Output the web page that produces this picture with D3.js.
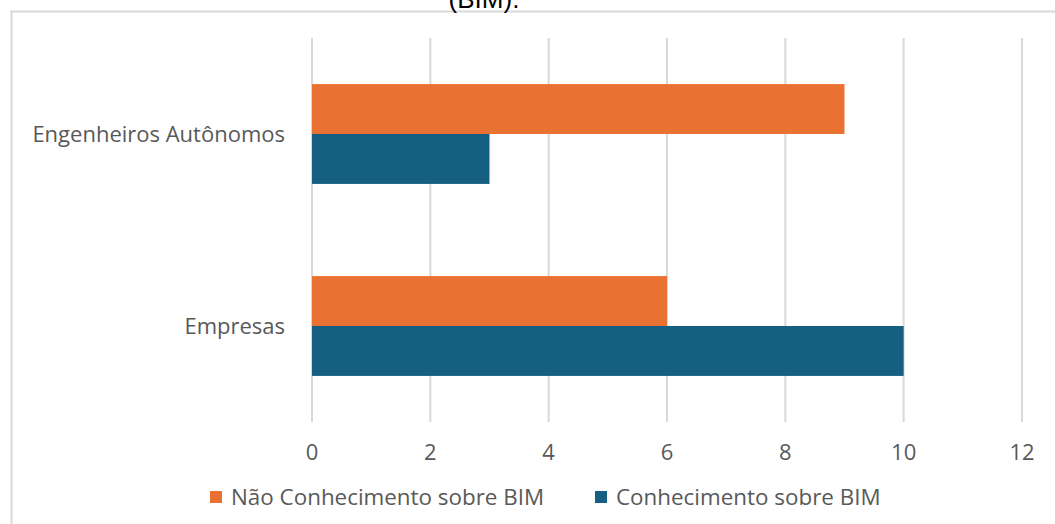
<!DOCTYPE html>
<html>
<head>
<meta charset="utf-8">
<script src="https://cdn.jsdelivr.net/npm/d3@7"></script>
<style>
  body { margin: 0; background: #fff; }
  text { font-family: "Open Sans", sans-serif; fill: #595959; }
</style>
</head>
<body>
<svg id="chart" width="1055" height="524"></svg>
<script>
const categories = ['Engenheiros Autônomos', 'Empresas']
const seriesNames = ['Não Conhecimento sobre BIM', 'Conhecimento sobre BIM']
const naoConhecimento = [9, 6]
const conhecimento = [3, 10]
const xTicks = [0, 2, 4, 6, 8, 10, 12]
const colors = ['#e97132', '#156082']

const svg = d3.select('#chart')

// chart frame, cut off at right and bottom like the source image
svg.append('rect')
    .attr('x', 11.5).attr('y', 11.5)
    .attr('width', 1100).attr('height', 600)
    .attr('fill', 'none')
    .attr('stroke', '#d9d9d9')
    .attr('stroke-width', 2)

// tail of the title, cropped at the top edge in the source
svg.append('text')
    .attr('x', 484).attr('y', 8)
    .attr('text-anchor', 'middle')
    .style('font-family', '"Liberation Sans", Arial, sans-serif')
    .style('font-size', '26px')
    .style('fill', '#000')
    .text('(BIM).')

const x = d3.scaleLinear().domain([0, 12]).range([312, 1022])
const y = d3.scaleBand().domain(categories).range([38, 422]).paddingInner(0.48).paddingOuter(0.24)
const sub = d3.scaleBand().domain(seriesNames).range([0, y.bandwidth()])

svg.append('g').selectAll('line')
    .data(xTicks)
    .join('line')
    .attr('x1', d => x(d)).attr('x2', d => x(d))
    .attr('y1', 38).attr('y2', 422)
    .attr('stroke', '#d9d9d9')
    .attr('stroke-width', 2)

const rows = categories.map((c, i) => ({ cat: c, values: [naoConhecimento[i], conhecimento[i]] }))

const groups = svg.append('g').selectAll('g')
    .data(rows)
    .join('g')
    .attr('transform', d => `translate(0, ${y(d.cat)})`)

groups.selectAll('rect')
    .data(d => d.values.map((v, j) => ({ name: seriesNames[j], value: v, j })))
    .join('rect')
    .attr('x', x(0))
    .attr('y', d => sub(d.name))
    .attr('width', d => x(d.value) - x(0))
    .attr('height', sub.bandwidth())
    .attr('fill', d => colors[d.j])

// x axis labels
svg.append('g').selectAll('text')
    .data(xTicks)
    .join('text')
    .attr('x', d => x(d))
    .attr('y', 452)
    .attr('dy', '0.35em')
    .attr('text-anchor', 'middle')
    .style('font-size', '22px')
    .text(d => d)

// category labels
svg.append('g').selectAll('text')
    .data(categories)
    .join('text')
    .attr('x', 285)
    .attr('y', d => y(d) + y.bandwidth() / 2)
    .attr('dy', '0.35em')
    .attr('text-anchor', 'end')
    .style('font-size', '22px')
    .text(d => d)

// legend
const legendX = [210, 595]
const legend = svg.append('g').selectAll('g')
    .data(seriesNames)
    .join('g')
    .attr('transform', (d, i) => `translate(${legendX[i]}, 497)`)

legend.append('rect')
    .attr('x', 0).attr('y', -6)
    .attr('width', 12).attr('height', 12)
    .attr('fill', (d, i) => colors[i])

legend.append('text')
    .attr('x', 21)
    .attr('dy', '0.35em')
    .style('font-size', '22.4px')
    .text(d => d)
</script>
</body>
</html>
